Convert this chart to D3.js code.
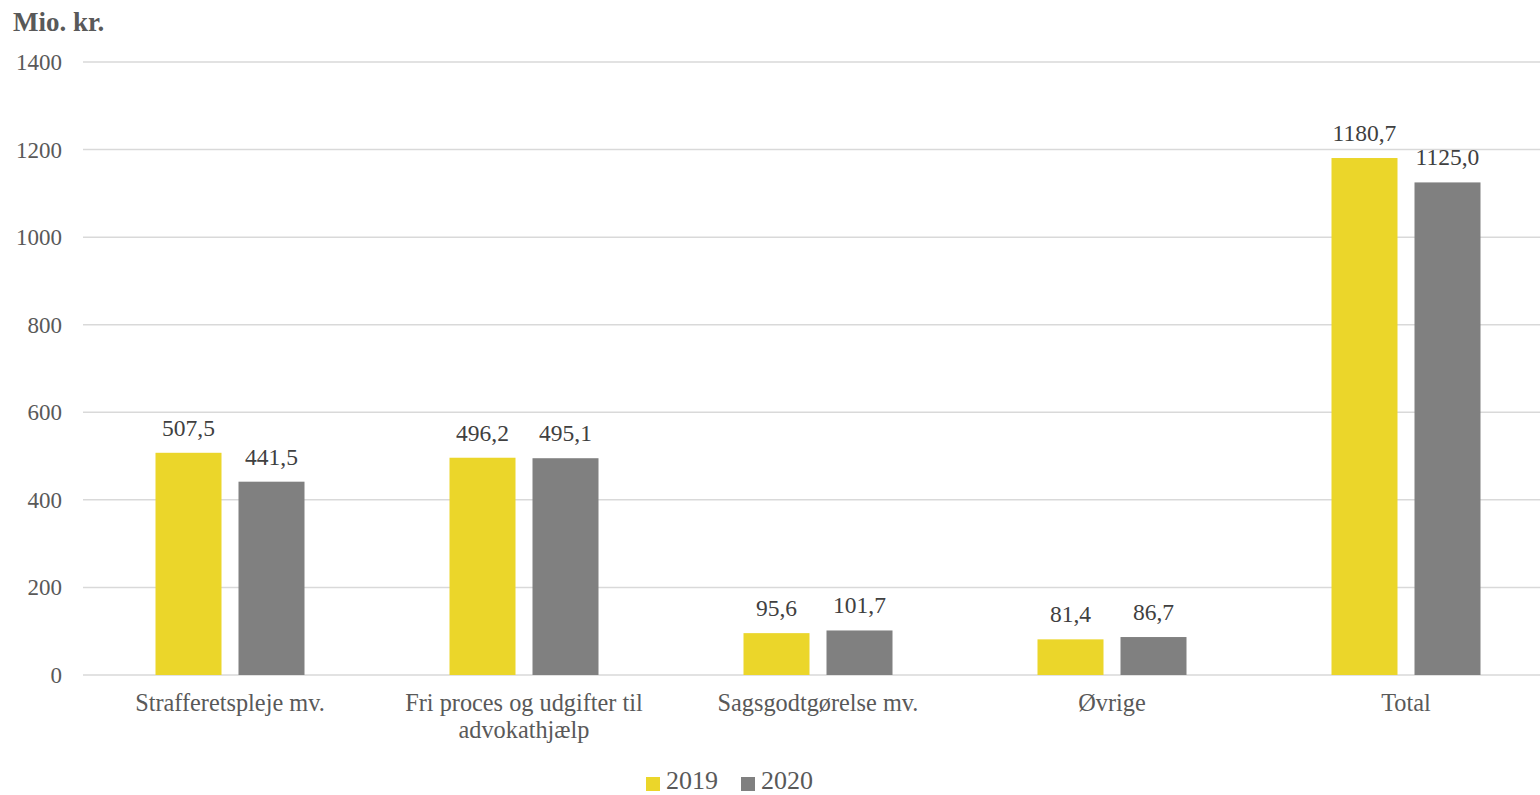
<!DOCTYPE html>
<html><head><meta charset="utf-8">
<script src="https://cdn.jsdelivr.net/npm/d3@7"></script>
<style>body{margin:0;background:#fff}svg{display:block}</style>
</head><body><svg id="c" width="1540" height="795" font-family="'Liberation Serif', 'DejaVu Serif', serif"></svg>
<script>
const categories = [["Strafferetspleje mv."],["Fri proces og udgifter til","advokathjælp"],["Sagsgodtgørelse mv."],["Øvrige"],["Total"]];
const series = ["2019","2020"];
const values2019 = [507.5, 496.2, 95.6, 81.4, 1180.7];
const values2020 = [441.5, 495.1, 101.7, 86.7, 1125.0];
const yTicks = [0,200,400,600,800,1000,1200,1400];
const colors = ["#EBD62A","#808080"];

(function(){
const svg = d3.select("#c");
const pLeft = 83, pRight = 1553, gridRight = 1540, pTop = 62, pBottom = 675;
const x = d3.scaleBand().domain(d3.range(categories.length)).range([pLeft,pRight]);
const y = d3.scaleLinear().domain([0,1400]).range([pBottom,pTop]);
const bw = x.bandwidth();
const barW = 66, gap = 17;
const fmt = v => d3.format(".1f")(v).replace(".",",");

svg.append("g").selectAll("line").data(yTicks).join("line")
  .attr("x1",pLeft).attr("x2",gridRight).attr("y1",d=>y(d)).attr("y2",d=>y(d))
  .attr("stroke","#D9D9D9").attr("stroke-width",1.5);
svg.append("g").selectAll("text").data(yTicks).join("text")
  .attr("x",62).attr("y",d=>y(d)).attr("dy","0.35em").attr("text-anchor","end")
  .attr("font-size",23).attr("fill","#595959").text(d=>d);
svg.append("text").attr("x",13).attr("y",31).attr("font-size",27).attr("font-weight","bold")
  .attr("fill","#595959").text("Mio. kr.");

const data = [values2019, values2020];
data.forEach((vals,si)=>{
  const off = si===0 ? bw/2 - gap/2 - barW : bw/2 + gap/2;
  svg.append("g").selectAll("rect").data(vals).join("rect")
    .attr("x",(d,i)=>x(i)+off).attr("width",barW)
    .attr("y",d=>y(d)).attr("height",d=>y(0)-y(d)).attr("fill",colors[si]);
  svg.append("g").selectAll("text").data(vals).join("text")
    .attr("x",(d,i)=>x(i)+off+barW/2).attr("y",d=>y(d)-17).attr("text-anchor","middle")
    .attr("font-size",23.5).attr("fill","#404040").text(d=>fmt(d));
});

const cg = svg.append("g").selectAll("text").data(categories).join("text")
  .attr("x",(d,i)=>x(i)+bw/2).attr("y",711).attr("text-anchor","middle")
  .attr("font-size",24.3).attr("fill","#595959");
cg.each(function(d){
  const cx = d3.select(this).attr("x");
  d3.select(this).selectAll("tspan").data(d).join("tspan")
    .attr("x",cx).attr("dy",(t,j)=>j===0?0:27).text(t=>t);
});

const legX = [646,741];
series.forEach((s,i)=>{
  svg.append("rect").attr("x",legX[i]).attr("y",777).attr("width",14).attr("height",14).attr("fill",colors[i]);
  svg.append("text").attr("x",legX[i]+20).attr("y",789).attr("font-size",26).attr("fill","#595959").text(s);
});
})();
</script></body></html>
